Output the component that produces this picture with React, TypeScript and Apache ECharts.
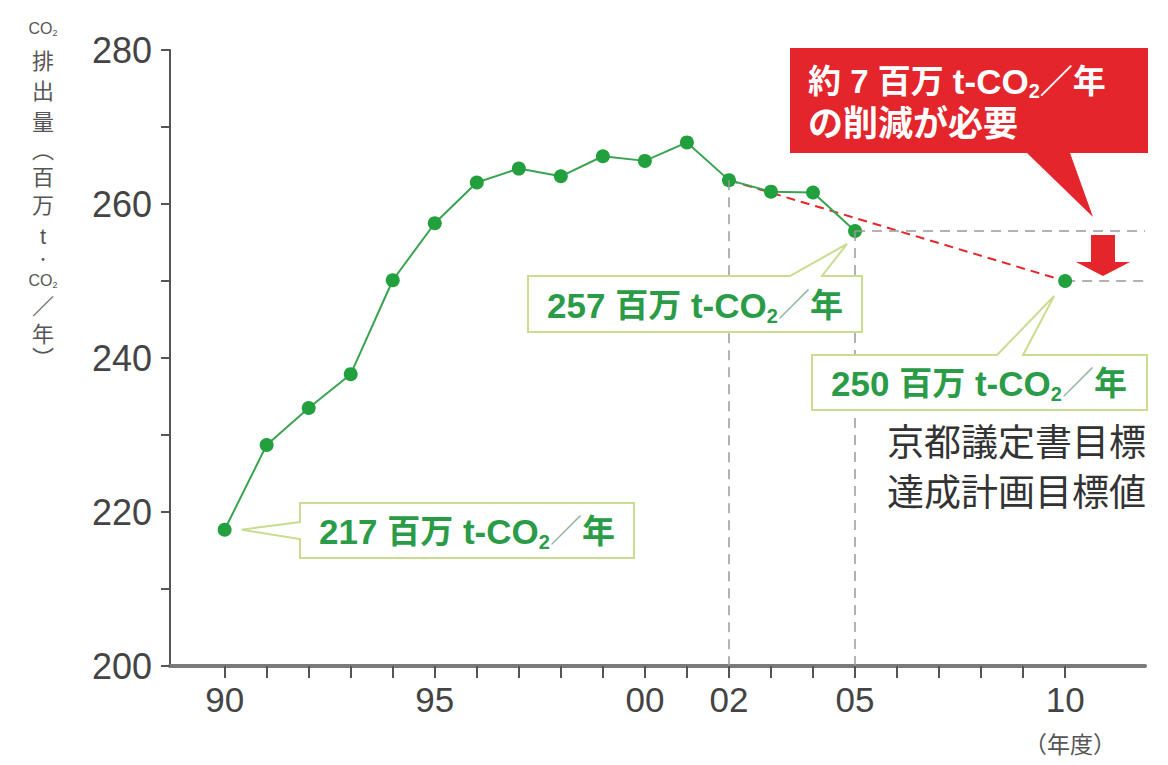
import React, { useEffect, useRef } from "react";
import * as echarts from "echarts";

const years = [1990, 1991, 1992, 1993, 1994, 1995, 1996, 1997, 1998, 1999, 2000, 2001, 2002, 2003, 2004, 2005];
const emissions = [217.7, 228.7, 233.5, 237.9, 250.1, 257.5, 262.8, 264.6, 263.6, 266.2, 265.6, 268.0, 263.1, 261.6, 261.5, 256.5];
const targetYears = [2002, 2010];
const targetValues = [263.1, 250.0];
const tickYears = [1990, 1991, 1992, 1993, 1994, 1995, 1996, 1997, 1998, 1999, 2000, 2001, 2002, 2003, 2004, 2005, 2006, 2007, 2008, 2009, 2010];
const labelYears = [1990, 1995, 2000, 2002, 2005, 2010];
const calloutValues = ["217", "257", "250"];
const yAxisNameChars = ["排", "出", "量", "︵", "百", "万", "t"];
const yAxisNameChars2 = ["／", "年", "︶"];

const FONT = "'Liberation Sans', 'Noto Sans CJK JP', sans-serif";
const GREEN = "#2a9c47";
const LINE_GREEN = "#3aa352";
const BOX_BORDER = "#c9dc8f";
const RED = "#e5252c";
const X_MIN = 1988.7;
const X_MAX = 2011.9;

function greenRich() {
  return {
    n: { fontSize: 35, fontWeight: "bold", fill: GREEN, fontFamily: FONT, lineHeight: 42 },
    s: { fontSize: 20, fontWeight: "bold", fill: GREEN, fontFamily: FONT, lineHeight: 21, verticalAlign: "bottom" },
    c: { fontSize: 33, fontWeight: "bold", fill: GREEN, fontFamily: FONT, lineHeight: 42 },
    sl: { fontSize: 32, fill: "#8fb0a0", fontFamily: FONT, lineHeight: 42 },
  };
}

function calloutText(v: string) {
  return `{n|${v} }{c|百万}{n| t-CO}{s|2}{sl|／}{c|年}`;
}

export default function App() {
  const ref = useRef<HTMLDivElement>(null);
  useEffect(() => {
    document.body.style.margin = "0";
    document.body.style.overflow = "hidden";
    const chart = echarts.init(ref.current!, null, { renderer: "svg" });
    chart.setOption({
      animation: false,
      backgroundColor: "#ffffff",
      grid: { left: 170, right: 23, top: 50, bottom: 99 },
      xAxis: {
        type: "value",
        min: X_MIN,
        max: X_MAX,
        axisLine: { show: true, lineStyle: { color: "#7a7a7a", width: 4 } },
        axisTick: { show: true, customValues: tickYears, length: 12, lineStyle: { color: "#555", width: 2 } },
        axisLabel: {
          customValues: labelYears,
          formatter: (v: number) => String(Math.round(v) % 100).padStart(2, "0"),
          fontSize: 35,
          color: "#444",
          fontFamily: FONT,
          margin: 16,
        },
        splitLine: { show: false },
      },
      yAxis: {
        type: "value",
        min: 200,
        max: 280,
        interval: 10,
        axisLine: { show: true, lineStyle: { color: "#555", width: 2 } },
        axisTick: { show: true, length: 9, lineStyle: { color: "#555", width: 2 } },
        axisLabel: {
          formatter: (v: number) => (v % 20 === 0 ? String(v) : ""),
          fontSize: 36,
          color: "#444",
          fontFamily: FONT,
          margin: 18,
        },
        splitLine: { show: false },
      },
      series: [
        {
          type: "line",
          data: [],
          z: 1,
          markLine: {
            silent: true,
            symbol: "none",
            label: { show: false },
            lineStyle: { color: "#999", width: 1.5, type: [10, 7] },
            data: [
              [{ coord: [years[12], emissions[12]] }, { coord: [years[12], 200] }],
              [{ coord: [years[15], emissions[15]] }, { coord: [years[15], 200] }],
              [{ coord: [years[15], emissions[15]] }, { coord: [X_MAX, emissions[15]] }],
              [{ coord: [targetYears[1], targetValues[1]] }, { coord: [X_MAX, targetValues[1]] }],
            ],
          },
        },
        {
          type: "line",
          data: targetYears.map((y, i) => [y, targetValues[i]]),
          symbol: "none",
          lineStyle: { color: RED, width: 2, type: [9, 6] },
          z: 3,
        },
        {
          type: "line",
          data: years.map((y, i) => [y, emissions[i]]),
          symbol: "circle",
          symbolSize: 14,
          itemStyle: { color: "#22a03e", opacity: 1 },
          lineStyle: { color: LINE_GREEN, width: 2 },
          z: 4,
        },
        {
          type: "scatter",
          data: [[targetYears[1], targetValues[1]]],
          symbol: "circle",
          symbolSize: 14,
          itemStyle: { color: "#22a03e", opacity: 1 },
          z: 5,
        },
      ],
    });

    const px = (x: number, y: number) => chart.convertToPixel({ xAxisIndex: 0, yAxisIndex: 0 }, [x, y]) as number[];
    const p1990 = px(years[0], emissions[0]);
    const p2005 = px(years[15], emissions[15]);
    const p2010 = px(targetYears[1], targetValues[1]);

    const box = (x0: number, y0: number, x1: number, y1: number, ptr: number[][], side: string) => {
      let pts: number[][];
      if (side === "left") {
        pts = [[x0, y0], [x1, y0], [x1, y1], [x0, y1], ptr[1], ptr[2], ptr[0]];
      } else {
        pts = [[x0, y0], ptr[0], ptr[2], ptr[1], [x1, y0], [x1, y1], [x0, y1]];
      }
      return {
        type: "polygon",
        z: 100,
        shape: { points: pts },
        style: { fill: "#ffffff", stroke: BOX_BORDER, lineWidth: 2 },
      };
    };
    const boxText = (cx: number, cy: number, v: string) => ({
      type: "text",
      z: 101,
      x: cx,
      y: cy,
      style: { text: calloutText(v), rich: greenRich(), align: "center", verticalAlign: "middle" },
    });

    const yNameEls: any[] = [];
    const nameYs = [61, 91, 122, 150, 177, 205, 236];
    yAxisNameChars.forEach((c, i) =>
      yNameEls.push({
        type: "text",
        x: 43,
        y: nameYs[i],
        style: { text: c, fontSize: 22, fill: "#555", fontFamily: FONT, align: "center", verticalAlign: "middle" },
      })
    );
    yNameEls.push({
      type: "text",
      x: 43,
      y: 259,
      style: { text: "・", fontSize: 13, fill: "#555", fontFamily: FONT, align: "center", verticalAlign: "middle" },
    });
    const nameYs2 = [306, 334, 358];
    yAxisNameChars2.forEach((c, i) =>
      yNameEls.push({
        type: "text",
        x: 43,
        y: nameYs2[i],
        style: { text: c, fontSize: 22, fill: "#555", fontFamily: FONT, align: "center", verticalAlign: "middle" },
      })
    );
    [28, 280].forEach((yy) =>
      yNameEls.push({
        type: "text",
        x: 43,
        y: yy,
        style: {
          text: "{a|CO}{b|2}",
          rich: {
            a: { fontSize: 16, fill: "#555", fontFamily: FONT, lineHeight: 18 },
            b: { fontSize: 9, fill: "#555", fontFamily: FONT, lineHeight: 10, verticalAlign: "bottom" },
          },
          align: "center",
          verticalAlign: "middle",
        },
      })
    );

    chart.setOption({
      graphic: [
        ...yNameEls,
        {
          type: "text",
          x: 1070,
          y: 745,
          style: { text: "（年度）", fontSize: 23, fill: "#555", fontFamily: FONT, align: "center", verticalAlign: "middle" },
        },
        // 217 callout
        box(300, 503, 634, 558, [[300, 522], [300, 539], [p1990[0] + 17, p1990[1]]], "left"),
        boxText(467, 531, calloutValues[0]),
        // 257 callout
        box(528, 276, 862, 332, [[790, 276], [822, 276], [p2005[0] - 8, p2005[1] + 13]], "top"),
        boxText(695, 305, calloutValues[1]),
        // 250 callout
        box(812, 355, 1147, 410, [[997, 355], [1023, 355], [p2010[0] - 11, p2010[1] + 15]], "top"),
        boxText(979, 383, calloutValues[2]),
        // Kyoto text
        {
          type: "text",
          z: 101,
          x: 1146,
          y: 468,
          style: {
            text: "京都議定書目標\n達成計画目標値",
            fontSize: 37,
            lineHeight: 50,
            fill: "#333",
            fontFamily: FONT,
            align: "right",
            verticalAlign: "middle",
          },
        },
        // red callout
        {
          type: "polygon",
          z: 100,
          shape: { points: [[790, 48], [1148, 48], [1148, 153], [1070, 153], [1093, 217], [1027, 153], [790, 153]] },
          style: { fill: RED },
        },
        {
          type: "text",
          z: 101,
          x: 808,
          y: 81,
          style: {
            text: "{a|約 7 百万 }{n|t-CO}{s|2}{a|／年}",
            rich: {
              a: { fontSize: 33, fontWeight: "bold", fill: "#fff", fontFamily: FONT, lineHeight: 40 },
              n: { fontSize: 35, fontWeight: "bold", fill: "#fff", fontFamily: FONT, lineHeight: 40 },
              s: { fontSize: 20, fontWeight: "bold", fill: "#fff", fontFamily: FONT, lineHeight: 20, verticalAlign: "bottom" },
            },
            align: "left",
            verticalAlign: "middle",
          },
        },
        {
          type: "text",
          z: 101,
          x: 808,
          y: 123,
          style: { text: "の削減が必要", fontSize: 35, fontWeight: "bold", fill: "#fff", fontFamily: FONT, align: "left", verticalAlign: "middle" },
        },
        // down arrow
        {
          type: "polygon",
          z: 100,
          shape: { points: [[1091, 235], [1115, 235], [1115, 262], [1130, 262], [1103, 276], [1076, 262], [1091, 262]] },
          style: { fill: RED },
        },
      ],
    });

    return () => chart.dispose();
  }, []);
  return <div ref={ref} style={{ width: 1168, height: 765 }} />;
}
